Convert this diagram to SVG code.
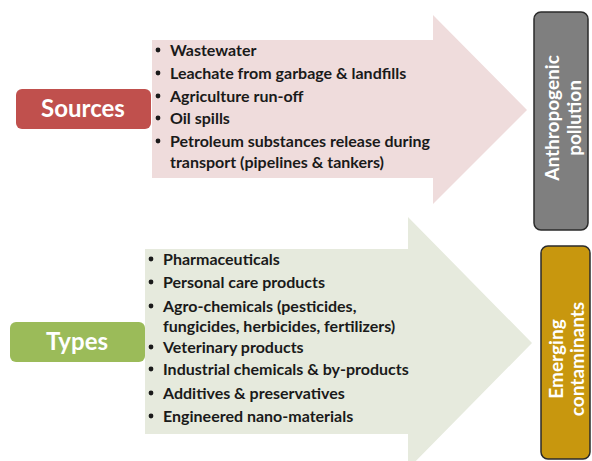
<svg xmlns="http://www.w3.org/2000/svg" width="592" height="461" viewBox="0 0 592 461">
<style>
.li{font-family:Lato,"Open Sans","Liberation Sans",sans-serif;font-weight:bold;font-size:16px;fill:#1a1a1a}
.lbl{font-family:Lato,"Open Sans","Liberation Sans",sans-serif;font-weight:bold;font-size:24px;fill:#ffffff;text-anchor:middle}
.vt{font-family:Lato,"Open Sans","Liberation Sans",sans-serif;font-weight:bold;font-size:19px;fill:#ffffff;text-anchor:middle}
</style>
<rect width="592" height="461" fill="#ffffff"/>
<g id="connectors">
<path id="arrow-top" d="M152 40 H433 V15 L527 110 L433 204 V178 H152 Z" fill="#efdcdc"/>
<path id="arrow-bottom" d="M145 249 H408 V217 L532 343 L408 469 V434 H145 Z" fill="#e6eadd"/>
</g>
<g id="sources">
<rect x="16" y="89" width="135" height="40" rx="6" fill="#c0504d"/>
<text class="lbl" x="83" y="117">Sources</text>
</g>
<g id="sources-list">
<g fill="#1a1a1a"><circle cx="158" cy="50" r="2.4"/><circle cx="158" cy="73" r="2.4"/><circle cx="158" cy="96" r="2.4"/><circle cx="158" cy="118" r="2.4"/><circle cx="158" cy="141" r="2.4"/></g>
<text class="li" x="170" y="56">Wastewater</text>
<text class="li" x="170" y="79">Leachate from garbage &amp; landfills</text>
<text class="li" x="170" y="102">Agriculture run-off</text>
<text class="li" x="170" y="124">Oil spills</text>
<text class="li" x="170" y="147">Petroleum substances release during</text>
<text class="li" x="170" y="168">transport (pipelines &amp; tankers)</text>
</g>
<g id="types">
<rect x="10" y="322" width="135" height="40" rx="6" fill="#9bbb59"/>
<text class="lbl" x="77" y="350">Types</text>
</g>
<g id="types-list">
<g fill="#1a1a1a"><circle cx="151" cy="259" r="2.4"/><circle cx="151" cy="282" r="2.4"/><circle cx="151" cy="306" r="2.4"/><circle cx="151" cy="347" r="2.4"/><circle cx="151" cy="369" r="2.4"/><circle cx="151" cy="393" r="2.4"/><circle cx="151" cy="416" r="2.4"/></g>
<text class="li" x="163" y="265">Pharmaceuticals</text>
<text class="li" x="163" y="288">Personal care products</text>
<text class="li" x="163" y="312">Agro-chemicals (pesticides,</text>
<text class="li" x="163" y="332">fungicides, herbicides, fertilizers)</text>
<text class="li" x="163" y="353">Veterinary products</text>
<text class="li" x="163" y="375">Industrial chemicals &amp; by-products</text>
<text class="li" x="163" y="399">Additives &amp; preservatives</text>
<text class="li" x="163" y="422">Engineered nano-materials</text>
</g>
<g id="anthropogenic">
<rect x="534" y="12" width="54" height="218" rx="7" fill="#7f7f7f" stroke="#2b2b2b" stroke-width="1.5"/>
<text class="vt" transform="translate(559 118) rotate(-90)">Anthropogenic</text>
<text class="vt" transform="translate(581 118) rotate(-90)">pollution</text>
</g>
<g id="emerging">
<rect x="541" y="246" width="49" height="213" rx="7" fill="#c8970e" stroke="#2b2b2b" stroke-width="1.5"/>
<text class="vt" transform="translate(563 359) rotate(-90)">Emerging</text>
<text class="vt" transform="translate(584 359) rotate(-90)">contaminants</text>
</g>
</svg>
